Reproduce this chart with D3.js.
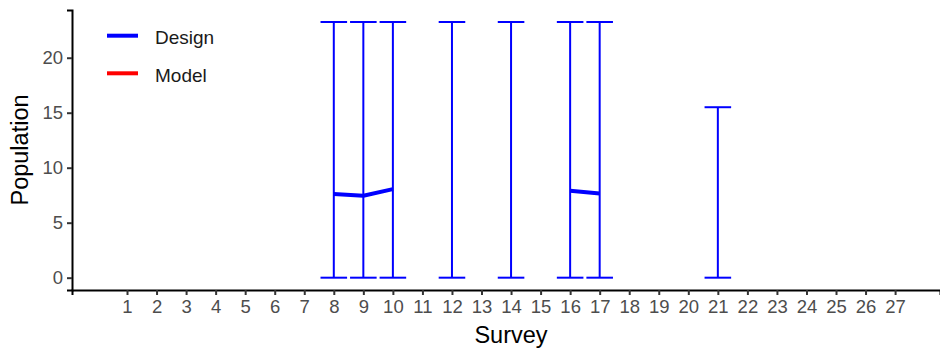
<!DOCTYPE html>
<html>
<head>
<meta charset="utf-8">
<script src="https://cdn.jsdelivr.net/npm/d3@7"></script>
<style>
  html, body { margin: 0; padding: 0; background: #fff; }
  svg { display: block; font-family: "Liberation Sans", Arial, sans-serif; }
</style>
</head>
<body>
<svg id="chart" width="940" height="350"></svg>
<script>
// Survey index shown on the x axis
const surveys = d3.range(1, 28);
// Design estimate per survey (null = not estimated)
const designMean = [null, null, null, null, null, null, null, 7.6, 7.45, 8.05, null, null, null, null, null, 7.9, 7.65, null, null, null, null, null, null, null, null, null, null];
// Interval bounds per survey (null = no interval)
const designLower = [null, null, null, null, null, null, null, 0, 0, 0, null, 0, null, 0, null, 0, 0, null, null, null, 0, null, null, null, null, null, null];
const designUpper = [null, null, null, null, null, null, null, 23.25, 23.25, 23.25, null, 23.25, null, 23.25, null, 23.25, 23.25, null, null, null, 15.5, null, null, null, null, null, null];
const yTicks = [0, 5, 10, 15, 20];
const legendItems = [{ label: "Design", color: "#0000FF" }, { label: "Model", color: "#FF0000" }];

const svg = d3.select("#chart");
const plotLeft = 72, plotRight = 940, plotTop = 10, plotBottom = 290;

const x = d3.scaleLinear().domain([-0.862, 28.52]).range([plotLeft, plotRight]);
const y = d3.scaleLinear().domain([-1.12, 24.34]).range([plotBottom, plotTop]);

const rows = surveys.map((s, i) => ({ s, mean: designMean[i], lo: designLower[i], hi: designUpper[i] }));

// Error bars
const capHalf = 0.45;
const eb = svg.append("g").attr("stroke", "#0000FF").attr("stroke-width", 2).attr("fill", "none");
rows.filter(d => d.lo !== null).forEach(d => {
  eb.append("line").attr("x1", x(d.s)).attr("x2", x(d.s)).attr("y1", y(d.lo)).attr("y2", y(d.hi));
  eb.append("line").attr("x1", x(d.s - capHalf)).attr("x2", x(d.s + capHalf)).attr("y1", y(d.hi)).attr("y2", y(d.hi));
  eb.append("line").attr("x1", x(d.s - capHalf)).attr("x2", x(d.s + capHalf)).attr("y1", y(d.lo)).attr("y2", y(d.lo));
});

// Design estimate line (gaps where undefined)
const line = d3.line().defined(d => d.mean !== null).x(d => x(d.s)).y(d => y(d.mean));
svg.append("path").datum(rows).attr("d", line)
  .attr("fill", "none").attr("stroke", "#0000FF").attr("stroke-width", 4).attr("stroke-linejoin", "round");

// Axes
const xAxis = svg.append("g").attr("transform", `translate(0,${plotBottom})`)
  .call(d3.axisBottom(x).tickValues(surveys).tickFormat(d3.format("d")).tickSizeOuter(0).tickSize(5).tickPadding(5));
const yAxis = svg.append("g").attr("transform", `translate(${plotLeft},0)`)
  .call(d3.axisLeft(y).tickValues(yTicks).tickSizeOuter(0).tickSize(5).tickPadding(4));
[xAxis, yAxis].forEach(a => {
  a.attr("font-family", null).attr("font-size", null);
  a.select(".domain").attr("stroke", "#000").attr("stroke-width", 2);
  a.selectAll(".tick line").attr("stroke", "#333").attr("stroke-width", 2);
  a.selectAll(".tick text").attr("fill", "#4D4D4D").style("font-size", "18.5px");
});

// Axis titles
svg.append("text").attr("x", 511).attr("y", 343).attr("text-anchor", "middle")
  .style("font-size", "23.5px").attr("fill", "#000").text("Survey");
svg.append("text").attr("transform", `translate(28,${(plotTop + plotBottom) / 2}) rotate(-90)`).attr("text-anchor", "middle")
  .style("font-size", "23.5px").attr("fill", "#000").text("Population");

// Legend
const lg = svg.append("g");
legendItems.forEach((it, i) => {
  const cy = 35.7 + i * 37.6;
  lg.append("line").attr("x1", 107).attr("x2", 138).attr("y1", cy).attr("y2", cy)
    .attr("stroke", it.color).attr("stroke-width", 4);
  lg.append("text").attr("x", 155).attr("y", cy + 8.3).style("font-size", "19px").attr("fill", "#1a1a1a").text(it.label);
});
</script>
</body>
</html>
